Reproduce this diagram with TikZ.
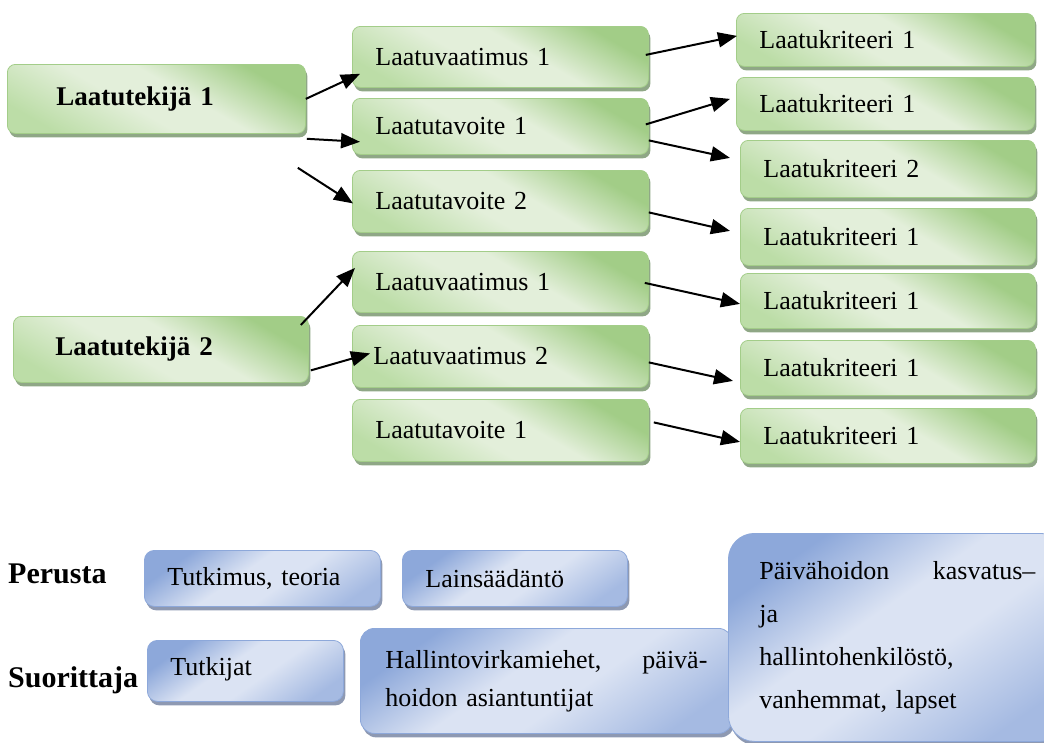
\documentclass[tikz,border=0pt]{standalone}
\usepackage{fontspec}
\setmainfont{Liberation Serif}
\usetikzlibrary{arrows.meta,shadows,calc}

\definecolor{gA}{HTML}{A2CD87}
\definecolor{gB}{HTML}{E3EFDA}
\definecolor{gC}{HTML}{BCDDA7}
\definecolor{gEdge}{HTML}{A3CD89}
\definecolor{gShadow}{HTML}{8FA786}
\definecolor{bA}{HTML}{8DA8DA}
\definecolor{bB}{HTML}{DBE3F3}
\definecolor{bC}{HTML}{A5BAE2}
\definecolor{bEdge}{HTML}{8DA8DA}
\definecolor{bShadow}{HTML}{8E99B2}

% soft "subtle effect" fills: darker edges, light band in the middle
\pgfdeclareverticalshading{greenfx}{100bp}{color(0bp)=(gC); color(24bp)=(gC); color(44bp)=(gB); color(56bp)=(gB); color(74bp)=(gA); color(100bp)=(gA)}
\pgfdeclareverticalshading{bluefx}{100bp}{color(0bp)=(bC); color(24bp)=(bC); color(44bp)=(bB); color(56bp)=(bB); color(74bp)=(bA); color(100bp)=(bA)}

\tikzset{
  box/.style={anchor=north west, align=left, inner ysep=0pt, inner xsep=23pt,
    line width=0.8pt, font=\fontsize{26}{30}\selectfont},
  greenbox/.style={box, rounded corners=8pt, draw=gEdge,
    shading=greenfx, shading angle=-30,
    drop shadow={shadow xshift=2pt, shadow yshift=-4pt, fill=gShadow, opacity=1}},
  bluebox/.style={box, rounded corners=10pt, draw=bEdge,
    shading=bluefx, shading angle=35,
    drop shadow={shadow xshift=2pt, shadow yshift=-4pt, fill=bShadow, opacity=1}},
  link/.style={line width=2pt, -{Triangle[length=19pt,width=15pt]}},
  heading/.style={anchor=base west, inner sep=0pt, font=\fontsize{30}{32}\selectfont\bfseries},
}

% \gbox{name}{x}{y}{width}{height}{text}
\newcommand\gbox[6]{%
  \node[greenbox, minimum width=#4pt, minimum height=#5pt, text width=#4pt-46pt] (#1) at (#2,#3) {#6};}

\begin{document}
\begin{tikzpicture}[x=1pt, y=-1pt]
\useasboundingbox (0,0) rectangle (1044,742);
\begin{scope}
\clip (0,0) rectangle (1044,742);

% quality factors
\node[greenbox, inner xsep=49pt, minimum width=298pt, minimum height=69pt, text width=200pt,
  font=\fontsize{27}{30}\selectfont\bfseries] (lt1) at (7,64) {Laatutekijä 1};
\node[greenbox, inner xsep=42pt, minimum width=295pt, minimum height=66pt, text width=211pt,
  font=\fontsize{27}{30}\selectfont\bfseries] (lt2) at (13,316) {Laatutekijä 2};

% requirements and goals
\gbox{lv1a}{352}{26}{296}{61}{Laatuvaatimus 1}
\gbox{lta1}{352}{98}{296}{56}{Laatutavoite 1}
\gbox{lta2}{352}{170}{296}{62}{Laatutavoite 2}
\gbox{lv1b}{352}{251}{296}{61}{Laatuvaatimus 1}
\node[greenbox, inner xsep=21pt, minimum width=296pt, minimum height=62pt, text width=254pt] (lv2) at (352,325) {Laatuvaatimus 2};
\gbox{lta1b}{352}{399}{296}{62}{Laatutavoite 1}

% criteria
\gbox{lk1}{736}{13}{298}{53}{Laatukriteeri 1}
\gbox{lk2}{736}{77}{298}{53}{Laatukriteeri 1}
\gbox{lk3}{740}{140}{295}{57}{Laatukriteeri 2}
\gbox{lk4}{740}{208}{295}{57}{Laatukriteeri 1}
\gbox{lk5}{740}{273}{295}{55}{Laatukriteeri 1}
\gbox{lk6}{740}{340}{295}{55}{Laatukriteeri 1}
\gbox{lk7}{740}{408}{295}{55}{Laatukriteeri 1}

% connectors
\coordinate (free) at ($(lt1.south east)+(-8,34)$);
\draw[link] (lt1.east) -- ($(lv1a.south west)+(8,-14)$);
\draw[link] ($(lt1.south east)+(1,5)$) -- ($(lta1.south west)+(8,-13)$);
\draw[link] (free) -- ($(lta2.west)+(1,2)$);
\draw[link] ($(lv1a.east)+(-3,-2)$) -- ($(lk1.west)+(1,-4)$);
\draw[link] ($(lta1.east)+(-3,-2)$) -- ($(lk2.west)+(-6,-5)$);
\draw[link] ($(lta1.east)+(0,14)$) -- ($(lk3.west)+(-10,-11)$);
\draw[link] ($(lta2.east)+(0,11)$) -- ($(lk4.west)+(-10,-6)$);
\draw[link] ($(lt2.north east)+(-8,9)$) -- ($(lv1b.west)+(3,-14)$);
\draw[link] ($(lt2.east)+(2,21)$) -- ($(lv2.west)+(18,-3)$);
\draw[link] ($(lv1b.east)+(-4,1)$) -- ($(lk5.west)+(0,3)$);
\draw[link] ($(lv2.east)+(0,6)$) -- ($(lk6.west)+(-7,13)$);
\draw[link] ($(lta1b.east)+(5,-8)$) -- ($(lk7.west)+(0,6)$);

% basis and performers
\node[heading] (perusta) at (8,583) {Perusta};
\node[heading] (suorittaja) at (8,687) {Suorittaja};

\node[bluebox, minimum width=236pt, minimum height=56pt, text width=190pt] (tt) at (144,550) {Tutkimus, teoria};
\node[bluebox, minimum width=225pt, minimum height=56pt, text width=179pt] (ls) at (402,550) {Lainsäädäntö};
\node[bluebox, minimum width=196pt, minimum height=61pt, text width=150pt] (tk) at (147,640) {\raisebox{8pt}{Tutkijat}};
\node[bluebox, rounded corners=14pt, inner xsep=25pt, minimum width=358pt, minimum height=105pt, text width=322pt,
  font=\fontsize{26}{38}\selectfont] (hv) at (360,628)
  {Hallintovirkamiehet,\hfill päivä-\\hoidon asiantuntijat};
\node[bluebox, rounded corners=26pt, inner xsep=31pt, minimum width=318pt, minimum height=208pt, text width=276pt,
  font=\fontsize{26}{43}\selectfont] (pk) at (728,533)
  {Päivähoidon\hfill kasvatus–\\ja\\hallintohenkilöstö,\\vanhemmat, lapset};
\end{scope}
\end{tikzpicture}
\end{document}
